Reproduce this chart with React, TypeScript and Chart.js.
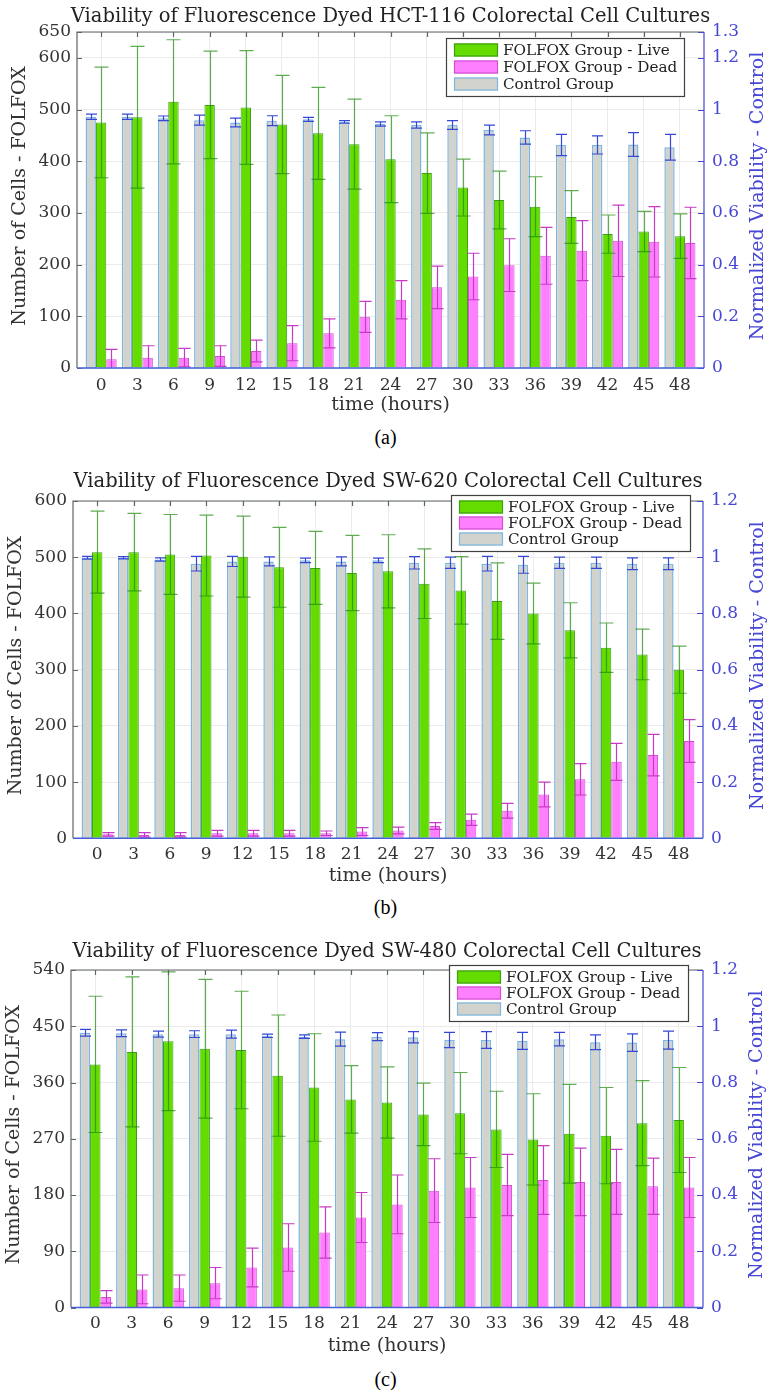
import React, { useEffect, useRef } from "react";
import { Chart, registerables } from "chart.js";

Chart.register(...registerables);

// ---------------- data ----------------
const hours = [0, 3, 6, 9, 12, 15, 18, 21, 24, 27, 30, 33, 36, 39, 42, 45, 48];
const seriesNames = ["Control Group", "FOLFOX Group - Live", "FOLFOX Group - Dead"];
const xTitle = "time (hours)";
const leftTitle = "Number of Cells - FOLFOX";
const rightTitle = "Normalized Viability - Control";

// (a) HCT-116
const hctTitle = "Viability of Fluorescence Dyed HCT-116 Colorectal Cell Cultures";
const hctControl = [0.972, 0.972, 0.966, 0.959, 0.95, 0.957, 0.962, 0.952, 0.944, 0.94, 0.94, 0.921, 0.892, 0.863, 0.863, 0.865, 0.854];
const hctControlErr = [0.01, 0.01, 0.009, 0.019, 0.017, 0.019, 0.008, 0.005, 0.008, 0.012, 0.017, 0.019, 0.026, 0.041, 0.035, 0.046, 0.05];
const hctLive = [475, 485, 515, 509, 504, 471, 454, 433, 404, 377, 349, 325, 312, 292, 259, 264, 255];
const hctLiveErr = [107, 137, 120, 104, 110, 95, 89, 87, 84, 78, 55, 56, 58, 51, 37, 39, 43];
const hctDead = [17, 20, 20, 23, 33, 48, 67, 99, 132, 156, 177, 199, 217, 227, 246, 244, 242];
const hctDeadErr = [19, 23, 18, 20, 21, 34, 28, 30, 37, 41, 45, 51, 55, 58, 69, 68, 69];
const hctLeftTicks = [0, 100, 200, 300, 400, 500, 600, 650];
const hctRightTicks = [0, 0.2, 0.4, 0.6, 0.8, 1, 1.2, 1.3];

// (b) SW-620
const sw620Title = "Viability of Fluorescence Dyed SW-620 Colorectal Cell Cultures";
const sw620Control = [0.998, 0.998, 0.992, 0.977, 0.985, 0.985, 0.989, 0.985, 0.989, 0.98, 0.98, 0.977, 0.973, 0.98, 0.98, 0.977, 0.977];
const sw620ControlErr = [0.005, 0.004, 0.006, 0.026, 0.018, 0.016, 0.008, 0.016, 0.008, 0.022, 0.02, 0.026, 0.03, 0.02, 0.02, 0.021, 0.021];
const sw620Live = [509, 509, 505, 503, 501, 482, 481, 472, 475, 453, 441, 422, 400, 370, 339, 327, 300];
const sw620LiveErr = [73, 69, 71, 72, 72, 71, 65, 67, 65, 62, 60, 68, 54, 49, 44, 45, 42];
const sw620Dead = [7, 6, 6, 9, 9, 9, 9, 12, 14, 22, 33, 49, 78, 105, 136, 148, 173];
const sw620DeadErr = [3, 4, 4, 5, 5, 5, 4, 7, 6, 6, 10, 13, 22, 28, 33, 37, 38];
const sw620LeftTicks = [0, 100, 200, 300, 400, 500, 600];
const sw620RightTicks = [0, 0.2, 0.4, 0.6, 0.8, 1, 1.2];

// (c) SW-480
const sw480Title = "Viability of Fluorescence Dyed SW-480 Colorectal Cell Cultures";
const sw480Control = [0.977, 0.975, 0.972, 0.972, 0.972, 0.966, 0.963, 0.954, 0.963, 0.961, 0.951, 0.951, 0.948, 0.954, 0.943, 0.942, 0.951];
const sw480ControlErr = [0.012, 0.012, 0.011, 0.012, 0.014, 0.006, 0.006, 0.025, 0.014, 0.02, 0.027, 0.03, 0.03, 0.024, 0.026, 0.031, 0.032];
const sw480Live = [389, 409, 426, 414, 412, 371, 352, 333, 328, 309, 311, 285, 269, 278, 275, 295, 300];
const sw480LiveErr = [109, 120, 111, 111, 94, 97, 86, 54, 57, 50, 65, 61, 73, 79, 77, 68, 84];
const sw480Dead = [17, 29, 31, 39, 64, 96, 120, 144, 165, 187, 192, 196, 204, 201, 201, 194, 192];
const sw480DeadErr = [10, 23, 21, 25, 31, 38, 41, 40, 47, 51, 48, 49, 55, 54, 52, 45, 48];
const sw480LeftTicks = [0, 90, 180, 270, 360, 450, 540];
const sw480RightTicks = [0, 0.2, 0.4, 0.6, 0.8, 1, 1.2];

// ---------------- styles ----------------
const FONT = "'DejaVu Serif', serif";
const W = 773;
const GREEN = "#64dc00";
const GREEN_EDGE = "#3f9e14";
const PINK = "#ff80ff";
const PINK_EDGE = "#d24fd2";
const GREY = "#d3d3cd";
const GREY_EDGE = "#7fb6df";
const ERR_COLORS = ["#3549d6", "rgba(35,140,15,0.72)", "#c53bc5"];
const CAP_HALF = [5.5, 7, 6];
const AXIS_GREY = "#5f6666";
const BLUE = "#4747d6";
const BOTTOM_BLUE = "#4561d9";
const TEXT = "#333333";
const GRID = "#ebebeb";

type Layout = {
  canvasTop: number;
  canvasH: number;
  L: number;
  R: number;
  top: number;
  bottom: number;
  titleY: number;
  tickY: number;
  xTitleY: number;
  leftTitleX: number;
  rightTitleX: number;
  legend: { x: number; y: number; w: number; h: number };
  captionY: number;
};

type Panel = {
  title: string;
  caption: string;
  control: number[];
  controlErr: number[];
  live: number[];
  liveErr: number[];
  dead: number[];
  deadErr: number[];
  leftTicks: number[];
  rightTicks: number[];
  layout: Layout;
};

const panels: Panel[] = [
  {
    title: hctTitle,
    caption: "(a)",
    control: hctControl,
    controlErr: hctControlErr,
    live: hctLive,
    liveErr: hctLiveErr,
    dead: hctDead,
    deadErr: hctDeadErr,
    leftTicks: hctLeftTicks,
    rightTicks: hctRightTicks,
    layout: {
      canvasTop: 0, canvasH: 420, L: 77, R: 704, top: 32, bottom: 368,
      titleY: 16.7, tickY: 386, xTitleY: 405, leftTitleX: 20, rightTitleX: 758,
      legend: { x: 446, y: 38, w: 238, h: 58 }, captionY: 437,
    },
  },
  {
    title: sw620Title,
    caption: "(b)",
    control: sw620Control,
    controlErr: sw620ControlErr,
    live: sw620Live,
    liveErr: sw620LiveErr,
    dead: sw620Dead,
    deadErr: sw620DeadErr,
    leftTicks: sw620LeftTicks,
    rightTicks: sw620RightTicks,
    layout: {
      canvasTop: 462, canvasH: 428, L: 73, R: 703, top: 501, bottom: 838.3,
      titleY: 481.7, tickY: 855, xTitleY: 876, leftTitleX: 16, rightTitleX: 758,
      legend: { x: 451, y: 495, w: 239, h: 56 }, captionY: 907,
    },
  },
  {
    title: sw480Title,
    caption: "(c)",
    control: sw480Control,
    controlErr: sw480ControlErr,
    live: sw480Live,
    liveErr: sw480LiveErr,
    dead: sw480Dead,
    deadErr: sw480DeadErr,
    leftTicks: sw480LeftTicks,
    rightTicks: sw480RightTicks,
    layout: {
      canvasTop: 930, canvasH: 430, L: 71, R: 703, top: 970, bottom: 1307.5,
      titleY: 951.7, tickY: 1324, xTitleY: 1346, leftTitleX: 14.5, rightTitleX: 757,
      legend: { x: 449, y: 965, w: 239, h: 56 }, captionY: 1379,
    },
  },
];

function makeExtras(p: Panel) {
  const lay = p.layout;
  return {
    id: "panelExtras",
    afterDatasetsDraw(chart: any) {
      const ctx: CanvasRenderingContext2D = chart.ctx;
      const { left, right, top, bottom } = chart.chartArea;
      const vals = [p.control, p.live, p.dead];
      const errs = [p.controlErr, p.liveErr, p.deadErr];
      ctx.save();
      ctx.beginPath();
      ctx.rect(left, top - 1, right - left, bottom - top + 1);
      ctx.clip();
      for (let d = 0; d < 3; d++) {
        const meta = chart.getDatasetMeta(d);
        const vs = meta.vScale;
        ctx.strokeStyle = ERR_COLORS[d];
        ctx.lineWidth = 1.2;
        meta.data.forEach((el: any, j: number) => {
          const v = vals[d][j];
          const e = errs[d][j];
          const x = Math.round(el.x) + 0.5;
          const yt = vs.getPixelForValue(v + e);
          const yb = vs.getPixelForValue(v - e);
          const hw = CAP_HALF[d];
          ctx.beginPath();
          ctx.moveTo(x, yt);
          ctx.lineTo(x, yb);
          ctx.moveTo(x - hw, yt);
          ctx.lineTo(x + hw, yt);
          ctx.moveTo(x - hw, yb);
          ctx.lineTo(x + hw, yb);
          ctx.stroke();
        });
      }
      ctx.restore();

      // axes box and inward ticks
      const xs = chart.scales.x;
      const ys = chart.scales.y;
      const y1 = chart.scales.y1;
      ctx.save();
      ctx.lineWidth = 1.2;
      ctx.strokeStyle = AXIS_GREY;
      ctx.beginPath();
      ctx.moveTo(left, bottom);
      ctx.lineTo(left, top);
      ctx.lineTo(right, top);
      ctx.stroke();
      ctx.beginPath();
      hours.forEach((h) => {
        const x = Math.round(xs.getPixelForValue(h)) + 0.5;
        ctx.moveTo(x, top);
        ctx.lineTo(x, top + 5);
      });
      p.leftTicks.forEach((v) => {
        const y = Math.round(ys.getPixelForValue(v)) + 0.5;
        ctx.moveTo(left, y);
        ctx.lineTo(left + 5, y);
      });
      ctx.stroke();
      ctx.strokeStyle = BLUE;
      ctx.beginPath();
      ctx.moveTo(right, top);
      ctx.lineTo(right, bottom);
      p.rightTicks.forEach((v) => {
        const y = Math.round(y1.getPixelForValue(v)) + 0.5;
        ctx.moveTo(right, y);
        ctx.lineTo(right - 6, y);
      });
      ctx.stroke();
      ctx.strokeStyle = BOTTOM_BLUE;
      ctx.lineWidth = 1.5;
      ctx.beginPath();
      ctx.moveTo(left, bottom);
      ctx.lineTo(right, bottom);
      ctx.stroke();
      ctx.restore();
    },
    afterDraw(chart: any) {
      const ctx: CanvasRenderingContext2D = chart.ctx;
      const { left, right, top, bottom } = chart.chartArea;
      const oy = lay.canvasTop;
      ctx.save();
      // title
      ctx.fillStyle = "#222";
      ctx.font = `19.5px ${FONT}`;
      ctx.textAlign = "center";
      ctx.textBaseline = "middle";
      ctx.fillText(p.title, (left + right) / 2, lay.titleY - oy);
      // x title
      ctx.font = `19px ${FONT}`;
      ctx.fillStyle = TEXT;
      ctx.fillText(xTitle, (left + right) / 2, lay.xTitleY - oy);
      // left title
      const cy = (top + bottom) / 2 - 4;
      ctx.save();
      ctx.translate(lay.leftTitleX, cy);
      ctx.rotate(-Math.PI / 2);
      ctx.fillText(leftTitle, 0, 0);
      ctx.restore();
      // right title
      ctx.save();
      ctx.translate(lay.rightTitleX, cy);
      ctx.rotate(-Math.PI / 2);
      ctx.fillStyle = BLUE;
      ctx.fillText(rightTitle, 0, 0);
      ctx.restore();

      // legend
      const lg = lay.legend;
      const bx = lg.x;
      const by = lg.y - oy;
      ctx.fillStyle = "#ffffff";
      ctx.fillRect(bx, by, lg.w, lg.h);
      ctx.strokeStyle = "#404040";
      ctx.lineWidth = 1.2;
      ctx.strokeRect(bx + 0.5, by + 0.5, lg.w, lg.h);
      const labels = chart.data.datasets.map((ds: any) => ds.label);
      const rows: [string, string, string][] = [
        [GREEN, GREEN_EDGE, labels[1]],
        [PINK, PINK_EDGE, labels[2]],
        [GREY, GREY_EDGE, labels[0]],
      ];
      const step = (lg.h - 24) / 2;
      rows.forEach((r, i) => {
        const ry = by + 12 + i * step;
        ctx.fillStyle = r[0];
        ctx.fillRect(bx + 8, ry - 6.5, 44, 13);
        ctx.strokeStyle = r[1];
        ctx.lineWidth = 1.2;
        ctx.strokeRect(bx + 8.5, ry - 6, 43, 12);
        ctx.fillStyle = "#222";
        ctx.font = `15.2px ${FONT}`;
        ctx.textAlign = "left";
        ctx.textBaseline = "middle";
        ctx.fillText(r[2], bx + 57, ry + 1);
      });
      ctx.restore();
    },
  };
}

function makeConfig(p: Panel): any {
  const lay = p.layout;
  const tickFont = { family: FONT, size: 17, lineHeight: 1.2 };
  const xHeight = lay.canvasTop + lay.canvasH - lay.bottom;
  const common = { categoryPercentage: 0.86, barPercentage: 1.0 };
  return {
    type: "bar",
    data: {
      datasets: [
        {
          label: seriesNames[0],
          data: hours.map((h, i) => ({ x: h, y: p.control[i] })),
          yAxisID: "y1",
          xAxisID: "x",
          backgroundColor: GREY,
          borderColor: GREY_EDGE,
          borderWidth: 1.5,
          ...common,
        },
        {
          label: seriesNames[1],
          data: hours.map((h, i) => ({ x: h, y: p.live[i] })),
          yAxisID: "y",
          xAxisID: "x",
          backgroundColor: GREEN,
          borderColor: GREEN_EDGE,
          borderWidth: 1,
          ...common,
        },
        {
          label: seriesNames[2],
          data: hours.map((h, i) => ({ x: h, y: p.dead[i] })),
          yAxisID: "y",
          xAxisID: "x",
          backgroundColor: PINK,
          borderColor: PINK_EDGE,
          borderWidth: 1,
          ...common,
        },
      ],
    },
    options: {
      responsive: false,
      maintainAspectRatio: false,
      animation: false,
      devicePixelRatio: 1,
      events: [],
      layout: { padding: { top: lay.top - lay.canvasTop, left: 0, right: 0, bottom: 0 } },
      plugins: {
        legend: { display: false },
        tooltip: { enabled: false },
        title: { display: false },
      },
      scales: {
        x: {
          type: "linear",
          position: "bottom",
          min: -2,
          max: 50,
          offset: false,
          afterBuildTicks: (s: any) => {
            s.ticks = hours.map((v) => ({ value: v }));
          },
          afterFit: (s: any) => {
            s.height = xHeight;
          },
          ticks: {
            autoSkip: false,
            maxRotation: 0,
            minRotation: 0,
            padding: lay.tickY - lay.bottom - 10.2,
            font: tickFont,
            color: TEXT,
            callback: (v: any) => String(v),
          },
          grid: { color: GRID, drawTicks: false, offset: false, lineWidth: 1 },
          border: { display: false },
          title: { display: false },
        },
        y: {
          type: "linear",
          position: "left",
          min: 0,
          max: p.leftTicks[p.leftTicks.length - 1],
          afterBuildTicks: (s: any) => {
            s.ticks = p.leftTicks.map((v) => ({ value: v }));
          },
          afterFit: (s: any) => {
            s.width = lay.L;
          },
          ticks: {
            padding: 6,
            font: tickFont,
            color: TEXT,
            callback: (v: any) => String(v),
          },
          grid: { color: GRID, drawTicks: false, lineWidth: 1 },
          border: { display: false },
          title: { display: false },
        },
        y1: {
          type: "linear",
          position: "right",
          min: 0,
          max: p.rightTicks[p.rightTicks.length - 1],
          afterBuildTicks: (s: any) => {
            s.ticks = p.rightTicks.map((v) => ({ value: v }));
          },
          afterFit: (s: any) => {
            s.width = W - lay.R;
          },
          ticks: {
            padding: 8,
            font: tickFont,
            color: BLUE,
            callback: (v: any) => String(Math.round(v * 10) / 10),
          },
          grid: { display: false, drawTicks: false },
          border: { display: false },
          title: { display: false },
        },
      },
    },
    plugins: [makeExtras(p)],
  };
}

function PanelChart({ p }: { p: Panel }) {
  const ref = useRef<HTMLCanvasElement>(null);
  useEffect(() => {
    if (!ref.current) return;
    const chart = new Chart(ref.current, makeConfig(p));
    return () => chart.destroy();
  }, [p]);
  const lay = p.layout;
  return (
    <>
      <div style={{ position: "absolute", left: 0, top: lay.canvasTop, width: W, height: lay.canvasH }}>
        <canvas ref={ref} width={W} height={lay.canvasH} style={{ width: W, height: lay.canvasH, display: "block" }} />
      </div>
      <div
        style={{
          position: "absolute",
          left: 0,
          width: 771,
          top: lay.captionY - 12,
          height: 24,
          lineHeight: "24px",
          textAlign: "center",
          fontFamily: "'Liberation Serif', 'Times New Roman', serif",
          fontSize: 20,
          color: "#000",
        }}
      >
        {p.caption}
      </div>
    </>
  );
}

export default function App() {
  return (
    <div style={{ position: "absolute", left: 0, top: 0, width: W, height: 1390, background: "#fff", overflow: "hidden" }}>
      {panels.map((p) => (
        <PanelChart key={p.caption} p={p} />
      ))}
    </div>
  );
}
